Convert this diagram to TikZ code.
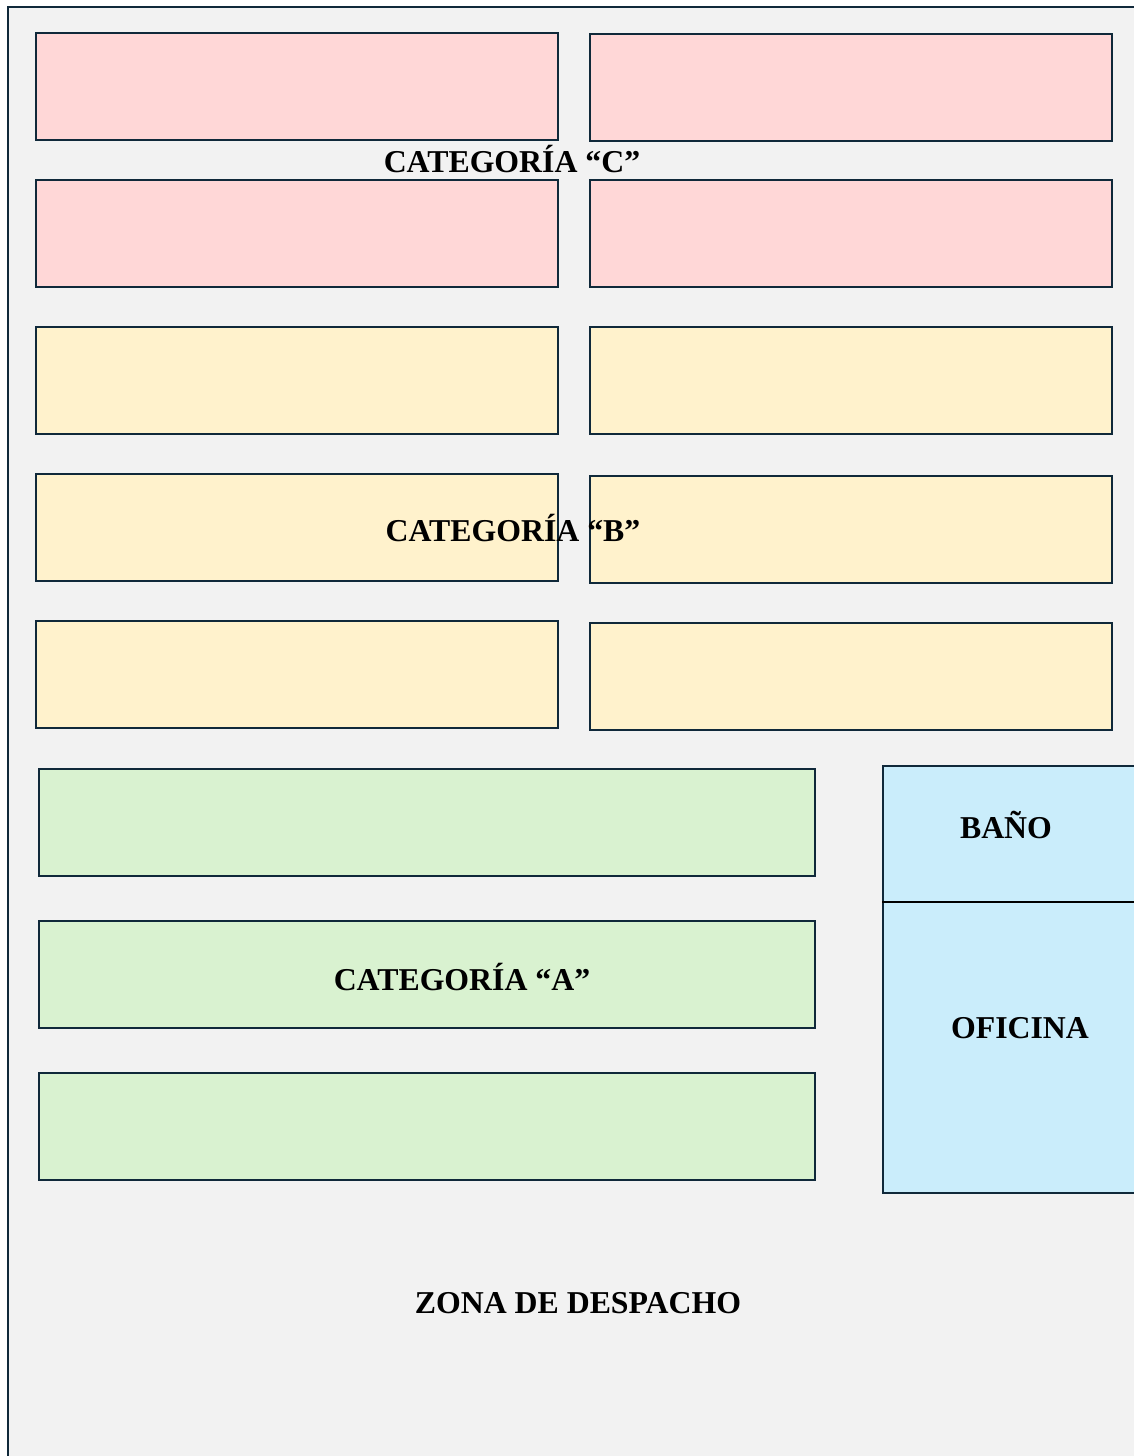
\documentclass[tikz,border=0pt]{standalone}
\usepackage{fontspec}
\setmainfont{Liberation Serif}
\definecolor{edge}{HTML}{10293A}
\definecolor{floor}{HTML}{F2F2F2}
\definecolor{pinkfill}{HTML}{FFD7D7}
\definecolor{yellowfill}{HTML}{FFF2CC}
\definecolor{greenfill}{HTML}{D9F2D0}
\definecolor{bluefill}{HTML}{CAEDFB}
\tikzset{
  shelf/.style={draw=edge, line width=1pt, rectangle, inner sep=0pt,
    minimum width=261pt, minimum height=53.5pt},
  pinkshelf/.style={shelf, fill=pinkfill},
  yellowshelf/.style={shelf, fill=yellowfill},
  greenshelf/.style={shelf, fill=greenfill, minimum width=388pt},
  label/.style={font=\fontsize{15.9}{18}\selectfont\bfseries, text=black, inner sep=0pt},
}
\begin{document}
\begin{tikzpicture}[x=0.5pt,y=-0.5pt]
\useasboundingbox (0,0) rectangle (1134,1456);
\clip (0,0) rectangle (1134,1456);
% warehouse floor
\draw[draw=edge, line width=1pt, fill=floor] (8,7) rectangle (1160,1480);

% category C racks
\node[pinkshelf] (c1) at (297,86.5) {};
\node[pinkshelf] (c2) at (851,87.5) {};
\node[pinkshelf] (c3) at (297,233.5) {};
\node[pinkshelf] (c4) at (851,233.5) {};

% category B racks
\node[yellowshelf] (b1) at (297,380.5) {};
\node[yellowshelf] (b2) at (851,380.5) {};
\node[yellowshelf] (b3) at (297,527.5) {};
\node[yellowshelf] (b4) at (851,529.5) {};
\node[yellowshelf] (b5) at (297,674.5) {};
\node[yellowshelf] (b6) at (851,676.5) {};

% category A racks
\node[greenshelf] (a1) at (427,822.5) {};
\node[greenshelf] (a2) at (427,974.5) {};
\node[greenshelf] (a3) at (427,1126.5) {};

% bathroom and office block
\draw[draw=edge, line width=1pt, fill=bluefill] (883,766) rectangle (1160,1193);
\coordinate (splitL) at (882,902);
\coordinate (splitR) at (1160,902);
\draw[black, line width=1pt] (splitL) -- (splitR);

% labels
\node[label] (lc) at (512,159) {CATEGORÍA “C”};
\node[label] (lb) at (513,528) {CATEGORÍA “B”};
\node[label] (la) at (462,977) {CATEGORÍA “A”};
\node[label] (bano) at (1006,825) {BAÑO};
\node[label] (ofi) at (1020,1028) {OFICINA};
\node[label] (zona) at (578,1303) {ZONA DE DESPACHO};
\end{tikzpicture}
\end{document}
